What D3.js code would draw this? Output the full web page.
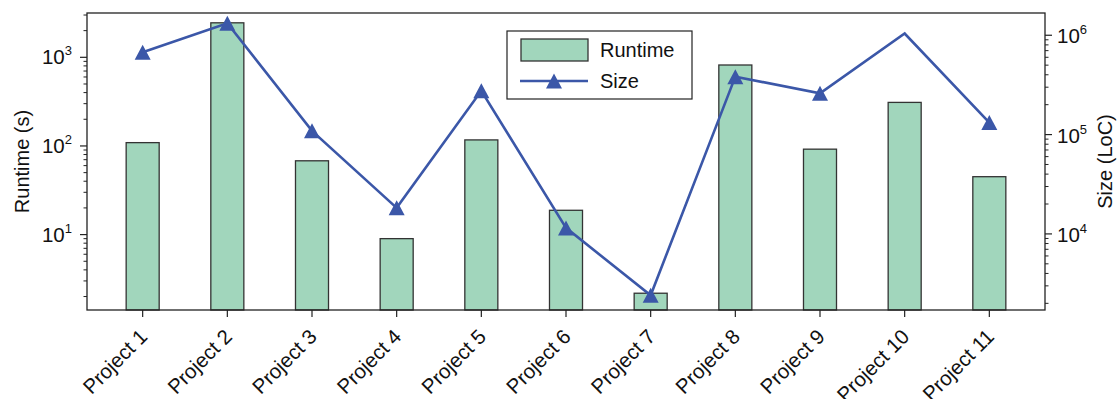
<!DOCTYPE html>
<html>
<head>
<meta charset="utf-8">
<script src="https://cdn.jsdelivr.net/npm/d3@7"></script>
<style>
  html, body { margin: 0; padding: 0; background: #fff; }
  svg { display: block; font-family: "Liberation Sans", Arial, Helvetica, sans-serif; }
</style>
</head>
<body>
<svg id="chart" width="1119" height="399"></svg>
<script>
const projects = ["Project 1", "Project 2", "Project 3", "Project 4", "Project 5", "Project 6",
                  "Project 7", "Project 8", "Project 9", "Project 10", "Project 11"];
const runtime = [109, 2450, 68, 9.0, 117, 18.8, 2.18, 819, 92, 310, 45];
const sizeLoC = [673000, 1320000, 109000, 18300, 276000, 11500, 2410, 383000, 260000, 1040000, 132000];
const sizeMarker = [true, true, true, true, true, true, true, true, true, false, true];
const leftTicks = [10, 100, 1000];
const rightTicks = [1e4, 1e5, 1e6];
const leftExps = ["1", "2", "3"];
const rightExps = ["4", "5", "6"];
const legendLabels = ["Runtime", "Size"];

const barFill = "#a1d6bc", barStroke = "#333333", lineColor = "#3b57a8";
const plot = { left: 87, right: 1045, top: 13, bottom: 310 };

const svg = d3.select("#chart");

const x = d3.scaleBand().domain(projects).range([plot.left, plot.right])
  .paddingInner(0.61).paddingOuter(0.4625);
const yL = d3.scaleLog().domain([1.41, 3162]).range([plot.bottom, plot.top]);
const yR = d3.scaleLog().domain([1714, 1.675e6]).range([plot.bottom, plot.top]);

function minorTicks(scale) {
  const [a, b] = scale.domain();
  const out = [];
  for (let e = Math.floor(Math.log10(a)); e <= Math.ceil(Math.log10(b)); e++) {
    for (let m = 2; m <= 9; m++) {
      const v = m * Math.pow(10, e);
      if (v >= a && v <= b) out.push(v);
    }
  }
  return out;
}

// bars
svg.append("g").selectAll("rect").data(runtime).join("rect")
  .attr("x", (d, i) => x(projects[i]))
  .attr("width", x.bandwidth())
  .attr("y", d => yL(d))
  .attr("height", d => plot.bottom - yL(d))
  .attr("fill", barFill)
  .attr("stroke", barStroke)
  .attr("stroke-width", 1.3);

// frame
svg.append("rect")
  .attr("x", plot.left).attr("y", plot.top)
  .attr("width", plot.right - plot.left).attr("height", plot.bottom - plot.top)
  .attr("fill", "none").attr("stroke", "#222").attr("stroke-width", 1.3);

// left axis ticks
const gL = svg.append("g");
gL.selectAll("line.maj").data(leftTicks).join("line")
  .attr("x1", plot.left - 7).attr("x2", plot.left)
  .attr("y1", d => yL(d)).attr("y2", d => yL(d))
  .attr("stroke", "#222").attr("stroke-width", 1.2);
gL.selectAll("line.min").data(minorTicks(yL)).join("line")
  .attr("x1", plot.left - 3.5).attr("x2", plot.left)
  .attr("y1", d => yL(d)).attr("y2", d => yL(d))
  .attr("stroke", "#222").attr("stroke-width", 1);
leftTicks.forEach((t, i) => {
  const txt = gL.append("text")
    .attr("x", plot.left - 15).attr("y", yL(t) + 7)
    .attr("text-anchor", "end").attr("font-size", 20.5).attr("fill", "#111");
  txt.append("tspan").text("10");
  txt.append("tspan").attr("font-size", 13).attr("dy", -9).text(leftExps[i]);
});

// right axis ticks
const gR = svg.append("g");
gR.selectAll("line.maj").data(rightTicks).join("line")
  .attr("x1", plot.right).attr("x2", plot.right + 7)
  .attr("y1", d => yR(d)).attr("y2", d => yR(d))
  .attr("stroke", "#222").attr("stroke-width", 1.2);
gR.selectAll("line.min").data(minorTicks(yR)).join("line")
  .attr("x1", plot.right).attr("x2", plot.right + 3.5)
  .attr("y1", d => yR(d)).attr("y2", d => yR(d))
  .attr("stroke", "#222").attr("stroke-width", 1);
rightTicks.forEach((t, i) => {
  const txt = gR.append("text")
    .attr("x", plot.right + 12).attr("y", yR(t) + 8)
    .attr("text-anchor", "start").attr("font-size", 20.5).attr("fill", "#111");
  txt.append("tspan").text("10");
  txt.append("tspan").attr("font-size", 13).attr("dy", -9).text(rightExps[i]);
});

// bottom ticks + labels
const gB = svg.append("g");
gB.selectAll("line").data(projects).join("line")
  .attr("x1", d => x(d) + x.bandwidth() / 2).attr("x2", d => x(d) + x.bandwidth() / 2)
  .attr("y1", plot.bottom).attr("y2", plot.bottom + 7)
  .attr("stroke", "#222").attr("stroke-width", 1.2);
gB.selectAll("text").data(projects).join("text")
  .attr("transform", d => `translate(${x(d) + x.bandwidth() / 2 + 6},${plot.bottom + 28}) rotate(-45)`)
  .attr("text-anchor", "end").attr("font-size", 20.5).attr("fill", "#111")
  .text(d => d);

// axis titles
svg.append("text")
  .attr("transform", `translate(29,${(plot.top + plot.bottom) / 2}) rotate(-90)`)
  .attr("text-anchor", "middle").attr("font-size", 20).attr("fill", "#111")
  .text("Runtime (s)");
svg.append("text")
  .attr("transform", `translate(1112,${(plot.top + plot.bottom) / 2}) rotate(-90)`)
  .attr("text-anchor", "middle").attr("font-size", 20).attr("fill", "#111")
  .text("Size (LoC)");

// size line
const cx = i => x(projects[i]) + x.bandwidth() / 2;
const line = d3.line().x((d, i) => cx(i)).y(d => yR(d));
svg.append("path").datum(sizeLoC)
  .attr("d", line).attr("fill", "none")
  .attr("stroke", lineColor).attr("stroke-width", 2.6).attr("stroke-linejoin", "miter");

const tri = "M0,-7.5L8,7.5L-8,7.5Z";
svg.append("g").selectAll("path").data(sizeLoC.map((v, i) => ({ v, i })).filter(d => sizeMarker[d.i]))
  .join("path")
  .attr("d", tri)
  .attr("transform", d => `translate(${cx(d.i)},${yR(d.v)})`)
  .attr("fill", lineColor);

// legend
const lg = svg.append("g").attr("transform", "translate(507,31)");
lg.append("rect").attr("width", 185).attr("height", 68)
  .attr("fill", "#fff").attr("stroke", "#222").attr("stroke-width", 1.2);
lg.append("rect").attr("x", 14).attr("y", 8).attr("width", 67).attr("height", 22)
  .attr("fill", barFill).attr("stroke", barStroke).attr("stroke-width", 1.3);
lg.append("text").attr("x", 93).attr("y", 19).attr("dy", "0.35em")
  .attr("font-size", 20).attr("fill", "#111").text(legendLabels[0]);
lg.append("line").attr("x1", 13).attr("x2", 81).attr("y1", 50).attr("y2", 50)
  .attr("stroke", lineColor).attr("stroke-width", 2.6);
lg.append("path").attr("d", tri).attr("transform", "translate(47,50)").attr("fill", lineColor);
lg.append("text").attr("x", 93).attr("y", 50).attr("dy", "0.35em")
  .attr("font-size", 20).attr("fill", "#111").text(legendLabels[1]);
</script>
</body>
</html>
